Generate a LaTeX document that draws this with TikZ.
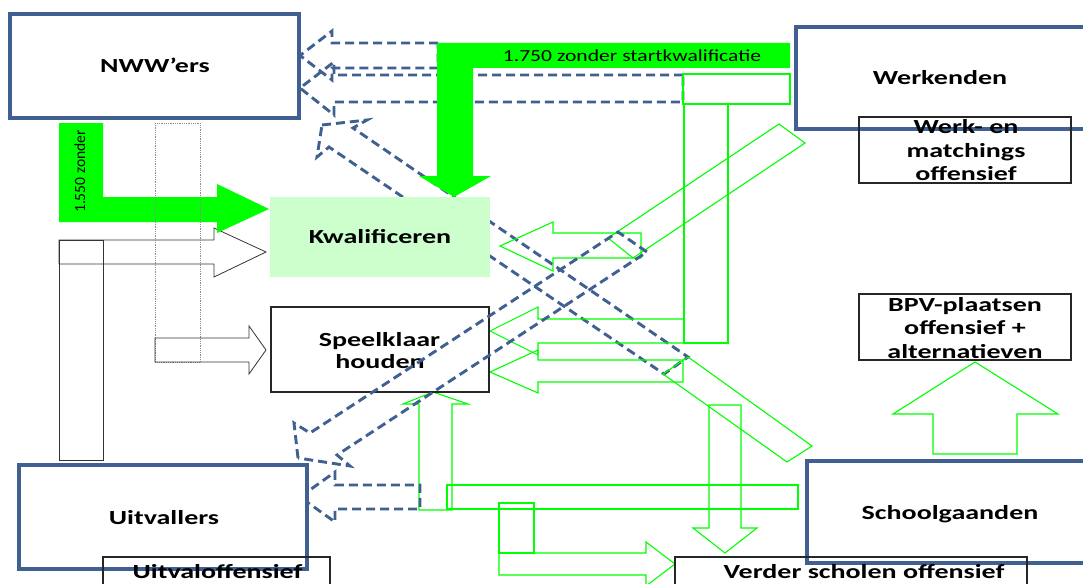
\documentclass[tikz,border=0pt]{standalone}
\usepackage{fontspec}
\setmainfont{Carlito}
\usepackage{graphicx}
\definecolor{navy}{HTML}{3F6090}
\definecolor{flowgreen}{HTML}{00FF00}
\definecolor{paleg}{HTML}{CCFFCC}
\newcommand\widetext[1]{\scalebox{1.40}[1]{#1}}
\tikzset{
  group/.style={draw=navy, line width=3.2pt, fill=white},
  offbox/.style={draw=black!85, line width=1.1pt},
  dashflow/.style={draw=navy, line width=2.9pt, dash pattern=on 9pt off 5pt, line join=miter},
  gline/.style={draw=flowgreen, line width=1.1pt},
  gthick/.style={draw=flowgreen, line width=2.8pt},
  gsolid/.style={fill=flowgreen, draw=none},
  blk/.style={draw=black!80, line width=0.8pt},
  dotbar/.style={draw=black!45, line width=0.8pt, densely dotted},
  lbl/.style={font=\bfseries\fontsize{20}{23}\selectfont, inner sep=0pt, anchor=base},
}
\begin{document}
\begin{tikzpicture}[x=1pt,y=-1pt]
\useasboundingbox (0,0) rectangle (1083,583);
\clip (0,0) rectangle (1083,583);

% left column: outlined arrows
\draw[blk] (59,240) rectangle (103,460);
\draw[blk] (59,240) -- (214,240) -- (214,228) -- (266,252) -- (214,277) -- (214,264) -- (59,264) -- cycle;

% 1.550 flow into Kwalificeren
\fill[gsolid] (59,123) -- (103,123) -- (103,197) -- (217,197) -- (217,184) -- (269,209)
  -- (217,233) -- (217,222) -- (59,222) -- cycle;
\node[rotate=90, anchor=base, inner sep=0pt, font=\fontsize{13}{13}\selectfont]
  (nz) at (85,171.5) {\scalebox{1.2}[1.2]{1.550 zonder}};

% dotted bar and arrow into Speelklaar houden
\draw[dotbar] (155,123) rectangle (200,362);
\draw[blk] (155,338) -- (249,338) -- (249,326) -- (266,350) -- (249,374) -- (249,362) -- (155,362) -- cycle;

% dashed flows back to NWW'ers
\draw[dashflow] (438,43) -- (332,43) -- (332,31) -- (300,55.5) -- (332,80) -- (332,68) -- (438,68) -- cycle;
\draw[dashflow] (683,75) -- (334,75) -- (334,62) -- (300,88) -- (334,115) -- (334,102) -- (683,102) -- cycle;
\draw[dashflow] (322,125) -- (367,120) -- (353,128) -- (688,357) -- (664,374) -- (329,147) -- (317,157) -- cycle;

% 1.750 flow into Kwalificeren
\fill[gsolid] (790,43) -- (437,43) -- (437,176) -- (419,176) -- (454,197) -- (491,176)
  -- (473,176) -- (473,68) -- (790,68) -- cycle;
\node[inner sep=0pt, anchor=base, font=\fontsize{17}{17}\selectfont] (n1750) at (632,62)
  {\scalebox{1.27}[1]{1.750 zonder startkwalificatie}};

% green outlined flows
\draw[gline] (683,74) rectangle (790,104);
\draw[gthick] (684,104) rectangle (728,343);
\draw[gline] (641,233) -- (553,233) -- (553,222) -- (500,246) -- (553,271) -- (553,258) -- (641,258) -- cycle;
\draw[gline] (608,238) -- (779,124) -- (805,143) -- (633,258) -- cycle;
\draw[gline] (684,319) -- (538,319) -- (538,307) -- (490,331) -- (538,355) -- (538,343) -- (684,343);
\draw[gline] (683,360) -- (538,360) -- (538,350) -- (490,372) -- (538,393) -- (538,382) -- (683,382) -- cycle;
\draw[gline] (419,510) -- (419,404) -- (403,404) -- (433,392) -- (468,404) -- (452,404) -- (452,510) -- cycle;
\draw[gline] (447,485) rectangle (798,509);
\draw[gline] (499,503) rectangle (534,553);
\draw[gline] (499,553) -- (646,553) -- (646,542) -- (675,564) -- (646,586) -- (646,575) -- (499,575) -- cycle;
\draw[gline] (709,405) -- (741,405) -- (741,528) -- (757,528) -- (725,553) -- (693,528) -- (709,528) -- cycle;
\draw[gline] (663,374) -- (688,357) -- (812,446) -- (787,462) -- cycle;
\draw[gline] (933,454) -- (933,414) -- (893,414) -- (975,362) -- (1058,414) -- (1017,414) -- (1017,454) -- cycle;

% Kwalificeren
\fill[paleg] (270,197) rectangle (490,277);
\node[lbl] (kwal) at (380,243) {\widetext{Kwalificeren}};

% Speelklaar houden
\draw[offbox] (271,307) rectangle (489,392);
\node[lbl] (speel1) at (379.5,346) {\widetext{Speelklaar}};
\node[lbl] (speel2) at (380,368) {\widetext{houden}};

% dashed flows to Uitvallers
\draw[dashflow] (298,458) -- (294,423) -- (310,433) -- (618,232) -- (647,252) -- (337,455) -- (350,466) -- cycle;
\draw[dashflow] (300,497) -- (335,472) -- (335,485) -- (420,485) -- (420,509) -- (335,509) -- (335,522) -- cycle;

% groups
\draw[group] (10,14) rectangle (299,118);
\node[lbl] (nww) at (155,73) {\widetext{NWW’ers}};
\draw[group] (796,27) rectangle (1095,129);
\node[lbl] (werk) at (940,85) {\widetext{Werkenden}};
\draw[group] (19,465) rectangle (307,569);
\node[lbl] (uit) at (164,524) {\widetext{Uitvallers}};
\draw[group] (807,461) rectangle (1095,563);
\node[lbl] (school) at (950,519) {\widetext{Schoolgaanden}};

% offensives
\draw[offbox] (859,117) rectangle (1071,183);
\node[lbl] (wm1) at (966,133) {\widetext{Werk- en}};
\node[lbl] (wm2) at (966,157) {\widetext{matchings}};
\node[lbl] (wm3) at (966,180) {\widetext{offensief}};
\draw[offbox] (859,294) rectangle (1071,360);
\node[lbl] (bpv1) at (965,311) {\widetext{BPV-plaatsen}};
\node[lbl] (bpv2) at (965,334.5) {\widetext{offensief +}};
\node[lbl] (bpv3) at (965,358) {\widetext{alternatieven}};
\draw[offbox] (103,557) rectangle (330,600);
\node[lbl] (uo) at (217.5,578) {\widetext{Uitvaloffensief}};
\draw[offbox] (675,557) rectangle (1027,600);
\node[lbl] (vso) at (864,578) {\widetext{Verder scholen offensief}};
\end{tikzpicture}
\end{document}
